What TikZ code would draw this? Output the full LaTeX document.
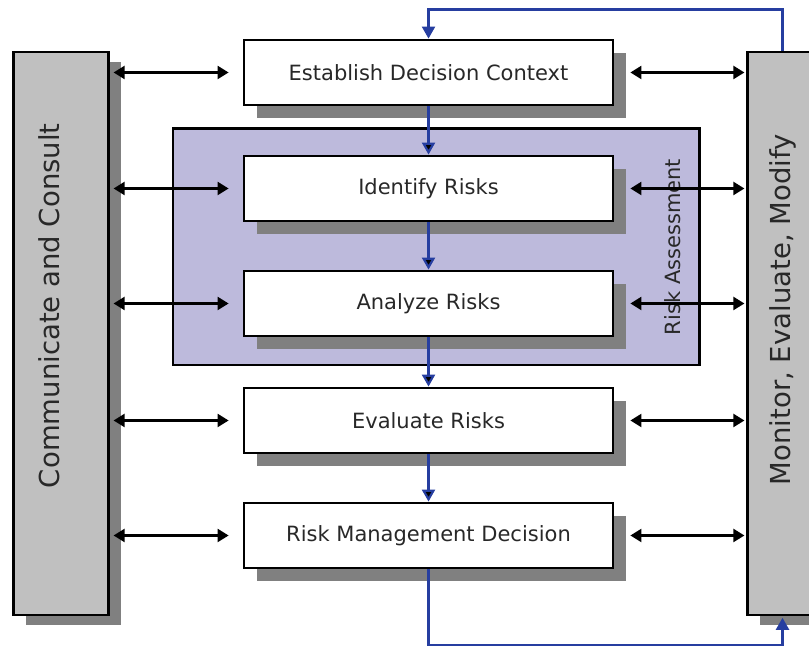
\documentclass[tikz,border=0pt]{standalone}
\usepackage{fontspec}
\setmainfont{DejaVu Sans}
\usetikzlibrary{positioning, fit, arrows.meta, shapes, backgrounds, shadows, calc}

\definecolor{colgray}{RGB}{192,192,192}
\definecolor{shadegray}{RGB}{128,128,128}
\definecolor{riskviolet}{RGB}{189,186,220}
\definecolor{flowblue}{RGB}{38,62,160}
\definecolor{textgray}{RGB}{40,40,40}

\begin{document}
\begin{tikzpicture}[x=1pt, y=1pt,
	stepbox/.style={draw, line width=2.8pt, fill=white, minimum width=369pt, minimum height=65pt, inner sep=0pt,
		font=\fontsize{21}{25}\selectfont, text=textgray,
		drop shadow={shadow xshift=13pt, shadow yshift=-13pt, fill=shadegray, opacity=1}},
	sidebar/.style={draw, line width=2.2pt, fill=colgray, minimum width=95pt, minimum height=563pt, inner sep=0pt,
		drop shadow={shadow xshift=12.5pt, shadow yshift=-10.5pt, fill=shadegray, opacity=1}},
	sidetext/.style={rotate=90, anchor=base, font=\fontsize{27.5}{31}\selectfont, text=textgray, inner sep=0pt},
	talk/.style={{Triangle[length=11pt, width=13pt]}-{Triangle[length=11pt, width=13pt]}, line width=2.2pt},
	flow/.style={-{Triangle[length=12pt, width=13pt]}, draw=flowblue, line width=2.2pt}]
		\useasboundingbox (0,0) rectangle (809,647);

		\node[stepbox] (context) at (428.5,574.5) {Establish Decision Context};
		\node[stepbox, below=48.2pt of context] (identify) {Identify Risks};
		\node[stepbox, below=47.2pt of identify] (analyze) {Analyze Risks};
		\node[stepbox, below=49.2pt of analyze] (evaluate) {Evaluate Risks};
		\node[stepbox, below=47.2pt of evaluate] (decision) {Risk Management Decision};

		\begin{scope}[on background layer]
			\node[draw, line width=2.2pt, fill=riskviolet, inner sep=0pt,
				fit={([xshift=-70pt, yshift=26pt]identify.north west) ([xshift=85pt, yshift=-28pt]analyze.south east)}] (assess) {};
		\end{scope}
		\node[rotate=90, anchor=south, font=\fontsize{21}{25}\selectfont, text=textgray] (assesslabel) at ([xshift=-16pt]assess.east) {Risk Assessment};

		\node[sidebar, anchor=north east] (consult) at ([xshift=-133pt, yshift=-12pt]context.north west) {};
		\node[sidebar, anchor=north west] (monitor) at ([xshift=132pt, yshift=-12pt]context.north east) {};
		\node[sidetext] (consulttext) at ([xshift=-1.5pt, yshift=27.5pt]consult.center) {Communicate and Consult};
		\node[sidetext] (monitortext) at ([xshift=-4.5pt, yshift=23.5pt]monitor.center) {Monitor, Evaluate, Modify};

		% exchanges with both side bars
		\foreach \s in {context, identify, analyze, evaluate, decision}{
			\path[talk] ($(consult.east |- \s.west)+(4,0)$) edge ($(\s.west)+(-14,0)$);
			\path[talk] ($(\s.east)+(16,0)$) edge ($(monitor.west |- \s.east)+(-2,0)$);
		}

		\path[flow] (context) edge (identify)
				  (identify) edge (analyze)
				  (analyze) edge (evaluate)
				  (evaluate) edge (decision);
		\draw[flow] ([xshift=-12.5pt]monitor.north) -- ++(0,41) -| (context.north);
		\draw[flow] (decision.south) -- ++(0,-76) -| ([xshift=-12.5pt, yshift=-2pt]monitor.south);
	\end{tikzpicture}
\end{document}
